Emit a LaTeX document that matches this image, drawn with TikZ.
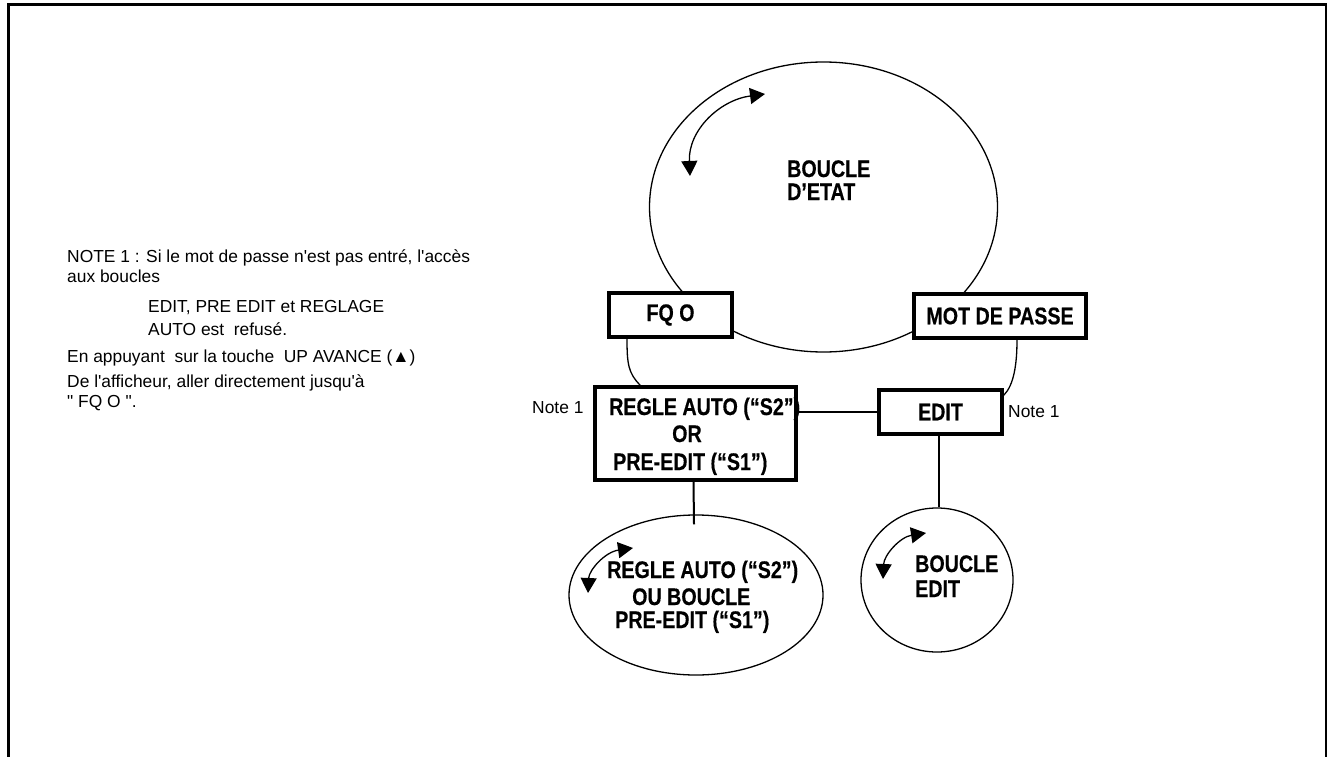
\documentclass[tikz,border=0pt]{standalone}
\usepackage{fontspec}
\setmainfont{Liberation Sans}
\newfontfamily\notefont{Liberation Sans}[Ligatures=TeXOff]
\newfontfamily\narrowfont{Liberation Sans}[FakeStretch=0.82,FakeBold=0.4]
\newcommand\bnf{\narrowfont\bfseries\fontsize{24}{28}\selectfont}
\newcommand\ntf{\notefont\fontsize{17.4}{20}\selectfont}
\usetikzlibrary{arrows.meta,shapes.geometric}
\begin{document}
\begin{tikzpicture}[x=1pt,y=-1pt,
  box/.style={draw,line width=3.5pt,fill=white,inner sep=0pt,font=\bnf},
  thinline/.style={line width=1.3pt},
  midline/.style={line width=2pt},
  loopshape/.style={ellipse,draw,line width=1.3pt,inner sep=0pt},
  looparrow/.style={line width=1.3pt,{Triangle[length=15pt,width=16pt]}-{Triangle[length=15pt,width=16pt]}},
  lbl/.style={font=\bnf,anchor=base west,inner sep=0pt},
  txt/.style={font=\ntf,anchor=base west,inner sep=0pt}]
\useasboundingbox (0,0) rectangle (1327,757);
% frame
\draw[line width=3pt] (8.5,757) -- (8.5,4.7) -- (1327,4.7);
\draw[line width=1.5pt] (1326.2,4) -- (1326.2,757);

% big state loop
\node[loopshape,minimum width=348pt,minimum height=290pt] (etat) at (823.5,207) {};
\draw[looparrow] (690,176) .. controls (688,130) and (720,100) .. (765,94);
\node[lbl] (etat1) at (787,177) {BOUCLE};
\node[lbl] (etat2) at (787,200) {D’ETAT};

% boxes
\node[box,minimum width=123pt,minimum height=44pt] (fq) at (670.5,315) {FQ O};
\node[box,minimum width=172pt,minimum height=44pt] (mot) at (1000,316) {MOT DE PASSE};
\node[box,minimum width=123pt,minimum height=44pt] (edit) at (940.5,412) {EDIT};
\node[box,minimum width=201pt,minimum height=93pt] (rg) at (695.5,433.5) {};
\node[lbl] (rg1) at (609,415) {REGLE AUTO (“S2”)};
\node[lbl] (rg2) at (672,442) {OR};
\node[lbl] (rg3) at (613,470) {PRE-EDIT (“S1”)};

% connectors
\draw[thinline] ([xshift=-43.5pt]fq.south) .. controls +(0,25) and +(-12,-12) .. ([xshift=47pt]rg.north west);
\draw[thinline] ([xshift=17pt]mot.south) .. controls +(0,25) and +(10,-10) .. ([yshift=-7pt]edit.north east);
\draw[midline] (edit.west) -- (edit.west -| rg.east);

% lower loops
\node[loopshape,minimum width=254pt,minimum height=160pt] (ell) at (696,595) {};
\node[loopshape,minimum width=152pt,minimum height=144pt] (ec) at (937,580) {};
\draw[midline] ([xshift=-2pt]rg.south) -- ([xshift=-2pt,yshift=-10pt]ell.north);
\draw[midline] ([xshift=-1.5pt]edit.south) -- ([xshift=-1.5pt]edit.south |- ec.north);

\draw[looparrow] (588,593) .. controls (589,570) and (605,552) .. (633,548);
\node[lbl] (el1) at (607,578) {REGLE AUTO (“S2”)};
\node[lbl] (el2) at (632,605) {OU BOUCLE};
\node[lbl] (el3) at (615,628) {PRE-EDIT (“S1”)};

\draw[looparrow] (883,579) .. controls (884,555) and (900,537) .. (926,533);
\node[lbl] (ec1) at (915,572) {BOUCLE};
\node[lbl] (ec2) at (915,597) {EDIT};

% note labels
\node[txt] (n1) at (532,413) {Note 1};
\node[txt] (n2) at (1008,417) {Note 1};

% note text
\node[txt] (t1) at (67,262) {NOTE 1 : Si le mot de passe n'est pas entré, l'accès};
\node[txt] (t2) at (67,282) {aux boucles};
\node[txt] (t3) at (148,312) {EDIT, PRE EDIT et REGLAGE};
\node[txt] (t4) at (148,335) {AUTO est\ \ refusé.};
\node[txt] (t5) at (67,362) {En appuyant\ \ sur la touche\ \ UP AVANCE (▲)};
\node[txt] (t6) at (67,387) {De l'afficheur, aller directement jusqu'à};
\node[txt] (t7) at (67,407) {" FQ O ".};
\end{tikzpicture}
\end{document}
